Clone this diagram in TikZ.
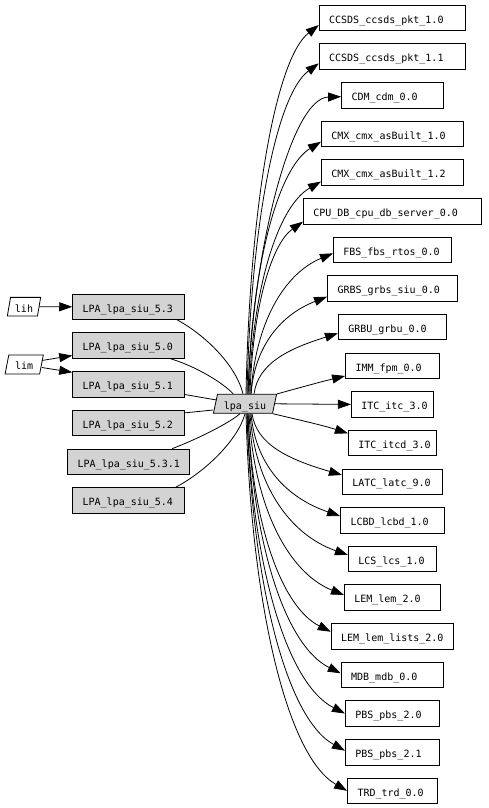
\documentclass[tikz,border=0pt]{standalone}
\usepackage{fontspec}
\setmonofont{DejaVu Sans Mono}
\usetikzlibrary{arrows.meta,shapes.geometric,calc}
\definecolor{nodegray}{HTML}{D3D3D3}
\tikzset{
  bw/.code={\pgfmathsetmacro\tw{#1-20}\edef\tmp{\noexpand\tikzset{text width=\tw pt}}\tmp},
  box/.style={draw, line width=0.8pt, fill=white, minimum height=25.5pt, inner xsep=10pt, inner ysep=0pt,
              text height=10.6pt, text depth=0pt, align=left},
  graybox/.style={box, fill=nodegray},
  para/.style={draw, line width=0.8pt, trapezium, trapezium stretches=true, inner xsep=2pt, inner ysep=0pt,
               text height=10.6pt, text depth=0pt},
  arr/.style={-{Triangle[length=13pt,width=9pt]}, line width=0.8pt},
  plain/.style={line width=0.8pt},
}
\newcommand\fanedge[2]{%
  \draw[arr] let \p1=(#1), \p2=(#2), \n1={\y2-\y1} in
    (\p1) .. controls ({\x1+0.05*(\x2-\x1)},{\y1+0.5*(\n1)})
          and ({\x2-0.6*(\x2-\x1)},{\y2-0.06*(\n1)-12pt*(\n1)/abs(\n1)}) .. (\p2);}
\begin{document}
\begin{tikzpicture}[x=1pt,y=-1pt,font=\ttfamily\fontsize{10pt}{12pt}\selectfont]
\useasboundingbox (0,0) rectangle (488,808);

% right column
\node[box,bw=146.7] (c10)   at (392.5,18)     {CCSDS\_ccsds\_pkt\_1.0};
\node[box,bw=146.7] (c11)   at (392.5,56.64)  {CCSDS\_ccsds\_pkt\_1.1};
\node[box,bw=102]   (cdm)   at (392.5,95.28)  {CDM\_cdm\_0.0};
\node[box,bw=142.3] (cmx10) at (392.5,133.92) {CMX\_cmx\_asBuilt\_1.0};
\node[box,bw=142.3] (cmx12) at (392.5,172.56) {CMX\_cmx\_asBuilt\_1.2};
\node[box,bw=178.3] (cpu)   at (392.5,211.2)  {CPU\_DB\_cpu\_db\_server\_0.0};
\node[box,bw=118.3] (fbs)   at (392.5,249.84) {FBS\_fbs\_rtos\_0.0};
\node[box,bw=130]   (grbs)  at (392.5,288.48) {GRBS\_grbs\_siu\_0.0};
\node[box,bw=108.3] (grbu)  at (392.5,327.12) {GRBU\_grbu\_0.0};
\node[box,bw=94]    (imm)   at (392.5,365.76) {IMM\_fpm\_0.0};
\node[box,bw=82.3]  (itc)   at (392.5,404.4)  {ITC\_itc\_3.0};
\node[box,bw=88.3]  (itcd)  at (392.5,443.04) {ITC\_itcd\_3.0};
\node[box,bw=100.3] (latc)  at (392.5,481.68) {LATC\_latc\_9.0};
\node[box,bw=104]   (lcbd)  at (392.5,520.32) {LCBD\_lcbd\_1.0};
\node[box,bw=88.3]  (lcs)   at (392.5,558.96) {LCS\_lcs\_1.0};
\node[box,bw=96.3]  (lem)   at (392.5,597.6)  {LEM\_lem\_2.0};
\node[box,bw=122.7] (lists) at (392.5,636.24) {LEM\_lem\_lists\_2.0};
\node[box,bw=102.7] (mdb)   at (392.5,674.88) {MDB\_mdb\_0.0};
\node[box,bw=94.3]  (pbs20) at (392.5,713.52) {PBS\_pbs\_2.0};
\node[box,bw=94.3]  (pbs21) at (392.5,752.16) {PBS\_pbs\_2.1};
\node[box,bw=90]    (trd)   at (392.5,790.8)  {TRD\_trd\_0.0};

% left column
\node[graybox,bw=111.3] (l53)  at (128.3,306.8)  {LPA\_lpa\_siu\_5.3};
\node[graybox,bw=111.3] (l50)  at (128.3,345.55) {LPA\_lpa\_siu\_5.0};
\node[graybox,bw=111.3] (l51)  at (128.3,384.3)  {LPA\_lpa\_siu\_5.1};
\node[graybox,bw=111.3] (l52)  at (128.3,423.05) {LPA\_lpa\_siu\_5.2};
\node[graybox,bw=121.7] (l531) at (128.5,461.8)  {LPA\_lpa\_siu\_5.3.1};
\node[graybox,bw=111.3] (l54)  at (128.3,500.55) {LPA\_lpa\_siu\_5.4};

\node[para, fill=white, trapezium left angle=76, trapezium right angle=104,
      minimum width=33.4pt, minimum height=18.7pt] (lih) at (24,306.7) {lih};
\node[para, fill=white, trapezium left angle=76, trapezium right angle=104,
      minimum width=38.3pt, minimum height=19pt] (lim) at (24.2,364.5) {lim};
\node[para, fill=nodegray, trapezium left angle=72, trapezium right angle=108,
      minimum width=63.4pt, minimum height=19pt] (siu) at (245,403.8) {lpa\_siu};

% inputs
\draw[arr] (lih.east) -- (l53.west);
\draw[arr] ([yshift=4pt]lim.east) -- ([yshift=-10pt]l50.west);
\draw[arr] ([yshift=-3pt]lim.east) -- ([yshift=12pt]l51.west);

% LPA -> lpa_siu
\draw[plain] ([xshift=-7pt]l53.south east) .. controls (205,335) and (236,365) .. ([xshift=-2pt]siu.north);
\draw[plain] ([xshift=-14pt]l50.south east) .. controls (195,366) and (222,382) .. ([xshift=-11.7pt]siu.north);
\draw[plain] ([yshift=3pt]l51.south east) -- ([shift={(1.5pt,3.8pt)}]siu.west);
\draw[plain] ([yshift=-3pt]l52.north east) -- ([shift={(-2pt,-6.2pt)}]siu.west);
\draw[plain] ([xshift=-17.6pt]l531.north east) .. controls (195,440) and (228,424) .. ([xshift=-5pt]siu.south);
\draw[plain] ([xshift=-9pt]l54.north east) .. controls (205,472) and (238,440) .. (siu.south);

% lpa_siu -> upper targets
\fanedge{[xshift=1pt]siu.north}{[yshift=-7pt]c10.west}
\fanedge{[xshift=2pt]siu.north}{[yshift=-6.7pt]c11.west}
\draw[arr] ([xshift=3pt]siu.north) .. controls (253,245) and (292,98) .. ([yshift=-1.4pt]cdm.west);
\fanedge{[xshift=3pt]siu.north}{[yshift=-7.8pt]cmx10.west}
\fanedge{[xshift=4pt]siu.north}{[yshift=-9pt]cmx12.west}
\fanedge{[xshift=5pt]siu.north}{[yshift=-10.5pt]cpu.west}
\fanedge{[xshift=6pt]siu.north}{[yshift=-3.5pt]fbs.west}
\fanedge{[xshift=6pt]siu.north}{[yshift=-8.2pt]grbs.west}
\fanedge{[xshift=9pt]siu.north}{[yshift=-6.2pt]grbu.west}
\draw[arr] (siu.top right corner) .. controls (295,389) and (320,382) .. ([yshift=-10.2pt]imm.west);
\draw[arr] (siu.east) -- (itc.west);
\draw[arr] (siu.bottom right corner) .. controls (295,419) and (322,425) .. ([yshift=9.7pt]itcd.west);

% lpa_siu -> lower targets
\fanedge{[xshift=7pt]siu.south}{[yshift=6.7pt]latc.west}
\fanedge{[xshift=6pt]siu.south}{[yshift=4.3pt]lcbd.west}
\fanedge{[xshift=5pt]siu.south}{[yshift=4pt]lcs.west}
\fanedge{[xshift=4pt]siu.south}{[yshift=2.6pt]lem.west}
\fanedge{[xshift=3pt]siu.south}{[yshift=4.5pt]lists.west}
\fanedge{[xshift=3pt]siu.south}{[yshift=1.6pt]mdb.west}
\fanedge{[xshift=2pt]siu.south}{pbs20.west}
\fanedge{[xshift=2pt]siu.south}{[yshift=1.5pt]pbs21.west}
\fanedge{[xshift=1pt]siu.south}{trd.west}
\end{tikzpicture}
\end{document}
